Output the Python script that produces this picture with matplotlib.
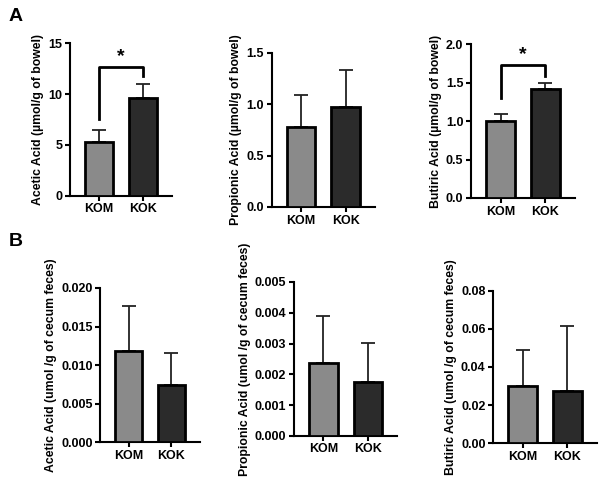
import matplotlib
matplotlib.use("Agg")
import matplotlib.pyplot as plt

plt.rcParams['font.family'] = ['Liberation Sans', 'DejaVu Sans']
plt.rcParams['font.weight'] = 'bold'

groups = ['KOM', 'KOK']
colors = ['#8a8a8a', '#2b2b2b']

# panel A (bowel)
acetic_a = [5.3, 9.6]
acetic_a_err = [1.2, 1.4]
propionic_a = [0.78, 0.97]
propionic_a_err = [0.31, 0.36]
butiric_a = [1.0, 1.42]
butiric_a_err = [0.09, 0.07]

# panel B (cecum feces)
acetic_b = [0.0118, 0.0074]
acetic_b_err = [0.0059, 0.0041]
propionic_b = [0.00237, 0.00175]
propionic_b_err = [0.00151, 0.00128]
butiric_b = [0.030, 0.0275]
butiric_b_err = [0.019, 0.034]

panels = [
    # rect, values, errors, ylim, ticks, ticklabels, ylabel, bracket
    ([0.117, 0.592, 0.170, 0.318], acetic_a, acetic_a_err, 15, [0, 5, 10, 15],
     ['0', '5', '10', '15'], 'Acetic Acid (µmol/g of bowel)', (12.7, 7.6, 11.8)),
    ([0.453, 0.569, 0.172, 0.321], propionic_a, propionic_a_err, 1.5, [0, 0.5, 1.0, 1.5],
     ['0.0', '0.5', '1.0', '1.5'], 'Propionic Acid (µmol/g of bowel)', None),
    ([0.785, 0.5875, 0.173, 0.3205], butiric_a, butiric_a_err, 2.0, [0, 0.5, 1.0, 1.5, 2.0],
     ['0.0', '0.5', '1.0', '1.5', '2.0'], 'Butiric Acid (µmol/g of bowel)', (1.73, 1.30, 1.58)),
    ([0.167, 0.079, 0.166, 0.321], acetic_b, acetic_b_err, 0.020, [0, 0.005, 0.010, 0.015, 0.020],
     ['0.000', '0.005', '0.010', '0.015', '0.020'], 'Acetic Acid (umol /g of cecum feces)', None),
    ([0.49, 0.092, 0.172, 0.3205], propionic_b, propionic_b_err, 0.005,
     [0, 0.001, 0.002, 0.003, 0.004, 0.005],
     ['0.000', '0.001', '0.002', '0.003', '0.004', '0.005'], 'Propionic Acid (umol /g of cecum feces)', None),
    ([0.822, 0.077, 0.173, 0.317], butiric_b, butiric_b_err, 0.08, [0, 0.02, 0.04, 0.06, 0.08],
     ['0.00', '0.02', '0.04', '0.06', '0.08'], 'Butiric Acid (umol /g of cecum feces)', None),
]

fig = plt.figure(figsize=(6, 4.8), dpi=100)

for rect, vals, errs, ymax, ticks, tlabels, ylabel, bracket in panels:
    ax = fig.add_axes(rect)
    x = [0, 1]
    ax.bar(x, vals, width=0.64, color=colors, edgecolor='black', linewidth=2.0, zorder=3)
    ax.errorbar(x, vals, yerr=[[0, 0], errs], fmt='none', ecolor='#222222',
                elinewidth=1.3, capsize=5, capthick=1.3, zorder=2)
    ax.set_xlim(-0.66, 1.66)
    ax.set_ylim(0, ymax)
    ax.set_yticks(ticks)
    ax.set_yticklabels(tlabels)
    ax.set_xticks(x)
    ax.set_xticklabels(groups)
    ax.spines['top'].set_visible(False)
    ax.spines['right'].set_visible(False)
    ax.spines['left'].set_linewidth(1.5)
    ax.spines['bottom'].set_linewidth(1.5)
    ax.tick_params(axis='both', width=1.5, length=3.5, labelsize=9, pad=2)
    ax.set_ylabel(ylabel, fontsize=8.8, fontweight='bold', labelpad=3)
    if bracket is not None:
        top, left_end, right_end = bracket
        ax.plot([0, 0, 1, 1], [left_end, top, top, right_end], color='black',
                linewidth=2.0, clip_on=False)
        ax.text(0.5, top + ymax * 0.01, '*', ha='center', va='bottom',
                fontsize=14, fontweight='bold')

fig.text(0.015, 0.965, 'A', fontsize=14, fontweight='bold', va='center')
fig.text(0.015, 0.497, 'B', fontsize=14, fontweight='bold', va='center')

fig.savefig('out.png', dpi=100)
